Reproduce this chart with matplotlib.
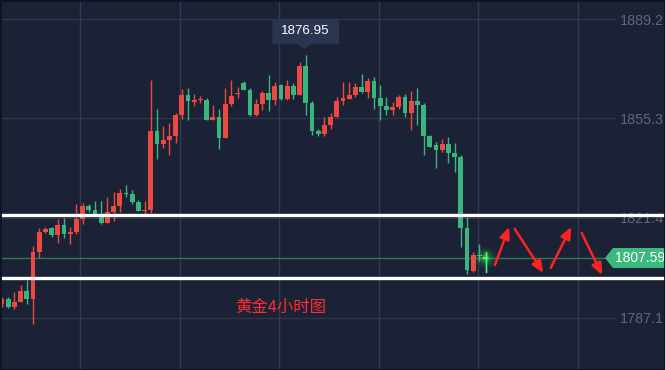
import matplotlib
matplotlib.use('Agg')
import matplotlib.pyplot as plt
from matplotlib.patches import Rectangle, Polygon
from matplotlib.transforms import blended_transform_factory

# ---- data (gold, 4h candles; red = up, green = down) ----
opens = [1791.9, 1793.6, 1790.9, 1792.6, 1796.3, 1793.6, 1809.6, 1816.5, 1817.8, 1815.4,
         1818.9, 1815.8, 1816.5, 1820.9, 1825.3, 1824.0, 1822.3, 1819.5, 1823.3, 1825.3,
         1829.8, 1829.4, 1826.7, 1823.6, 1824.0, 1851.0, 1846.5, 1847.9, 1849.3, 1856.4,
         1863.3, 1860.9, 1861.5, 1861.5, 1854.7, 1855.7, 1848.6, 1860.2, 1863.6, 1867.4,
         1865.0, 1856.4, 1860.2, 1863.9, 1861.5, 1866.7, 1861.9, 1866.3, 1863.3, 1873.2,
         1860.5, 1851.0, 1849.9, 1853.0, 1855.7, 1861.2, 1861.9, 1863.3, 1866.0, 1864.3,
         1868.0, 1862.2, 1859.5, 1858.1, 1859.2, 1862.6, 1857.1, 1861.2, 1859.8, 1849.3,
         1846.2, 1844.5, 1846.5, 1843.4, 1842.1, 1817.8, 1803.1, 1808.6, 1807.9]
highs = [1794.3, 1794.3, 1796.0, 1798.4, 1800.1, 1811.7, 1817.8, 1818.2, 1818.2, 1820.9,
         1821.2, 1818.2, 1826.0, 1826.4, 1826.0, 1827.1, 1827.1, 1828.4, 1830.1, 1831.2,
         1832.5, 1830.8, 1827.4, 1827.1, 1868.4, 1858.5, 1852.7, 1853.7, 1857.1, 1865.3,
         1865.6, 1863.6, 1862.9, 1862.2, 1859.8, 1858.5, 1865.6, 1868.4, 1866.0, 1868.0,
         1865.6, 1861.9, 1864.6, 1870.1, 1867.7, 1867.0, 1868.4, 1867.4, 1874.5, 1876.95,
         1861.2, 1851.6, 1855.7, 1857.1, 1862.6, 1867.7, 1867.7, 1867.4, 1870.4, 1869.1,
         1869.4, 1866.7, 1862.6, 1860.9, 1863.3, 1863.6, 1864.6, 1865.6, 1860.5, 1849.6,
         1847.2, 1848.2, 1848.9, 1846.9, 1842.8, 1821.6, 1809.6, 1812.4, 1809.6]
lows = [1790.9, 1790.5, 1790.2, 1792.6, 1791.9, 1785.0, 1807.6, 1816.1, 1814.8, 1812.7,
        1814.4, 1812.4, 1815.8, 1819.2, 1823.3, 1822.6, 1819.2, 1819.5, 1820.2, 1823.3,
        1828.4, 1826.0, 1823.6, 1822.6, 1823.0, 1841.4, 1845.1, 1842.8, 1846.9, 1855.1,
        1854.7, 1859.5, 1860.5, 1854.7, 1854.7, 1844.8, 1848.6, 1859.5, 1862.2, 1865.0,
        1856.1, 1856.1, 1858.1, 1857.8, 1859.8, 1861.5, 1861.5, 1861.9, 1863.3, 1856.4,
        1849.6, 1849.3, 1849.3, 1851.6, 1855.7, 1859.8, 1861.9, 1862.6, 1863.9, 1862.2,
        1858.5, 1854.7, 1856.4, 1856.4, 1858.5, 1855.7, 1851.3, 1853.0, 1842.8, 1845.5,
        1838.3, 1843.8, 1840.0, 1837.0, 1811.3, 1802.1, 1802.8, 1806.6, 1802.8]
closes = [1793.6, 1790.9, 1792.6, 1796.3, 1793.6, 1809.6, 1816.5, 1817.5, 1815.4, 1818.9,
          1815.8, 1816.5, 1820.9, 1825.3, 1824.0, 1822.6, 1819.5, 1823.3, 1825.3, 1829.8,
          1829.4, 1826.7, 1823.6, 1824.0, 1851.0, 1846.5, 1847.9, 1849.3, 1856.4, 1863.3,
          1861.2, 1861.5, 1861.9, 1854.7, 1855.7, 1848.6, 1860.2, 1862.9, 1863.9, 1865.0,
          1856.4, 1860.2, 1863.9, 1861.5, 1866.3, 1861.9, 1866.3, 1863.3, 1873.2, 1860.5,
          1851.0, 1849.9, 1853.0, 1855.7, 1861.2, 1862.2, 1863.3, 1866.0, 1864.3, 1868.0,
          1862.2, 1859.5, 1858.1, 1859.2, 1862.6, 1857.1, 1861.2, 1859.8, 1849.3, 1845.5,
          1844.5, 1846.5, 1843.4, 1842.1, 1817.8, 1803.5, 1808.6, 1808.3, 1807.6]

y_ticks = [1889.2, 1855.3, 1821.4, 1787.1]
y_tick_labels = ["1889.2", "1855.3", "1821.4", "1787.1"]
last_price = 1807.59
last_price_label = "1807.59"
peak_index = 49
peak_label = "1876.95"
resistance_level = 1822.1
support_level = 1800.6
caption = "黄金4小时图"
caption_pos = (45.0, 1790.6)
# hand-drawn forecast arrows: (start, tip) in (candle index, price)
arrow_paths = [((79.5, 1805.2), (81.8, 1818.2)),
               ((82.7, 1817.5), (87.3, 1802.5)),
               ((88.5, 1804.2), (91.8, 1818.2)),
               ((93.5, 1816.1), (96.8, 1801.8))]

# ---- style ----
BG = '#1c2236'
RED = '#ec4a40'
GREEN = '#3bb57e'
GRID = '#2f364a'
VGRID = '#343b50'
TICK_C = '#5f677b'

W, H, DPI = 665, 370, 100
PX_X = 6.2          # pixels per candle
X0_PX = 2.0         # pixel center of first candle
PX_Y = 0.3415       # price per pixel
TOP_PRICE = 1895.69

fig = plt.figure(figsize=(W / DPI, H / DPI), dpi=DPI, facecolor=BG)
ax = fig.add_axes([0, 0, 1, 1])
ax.set_facecolor(BG)
ax.set_xlim(-X0_PX / PX_X, (W - X0_PX) / PX_X)
ax.set_ylim(TOP_PRICE - PX_Y * H, TOP_PRICE)
ax.axis('off')

def px2x(px):
    return (px - X0_PX) / PX_X

# grid
for yt in y_ticks:
    ax.plot([px2x(0), px2x(615)], [yt, yt], color=GRID, lw=1.0, zorder=1)
for k in range(6):
    ax.axvline(12.6 + 16.05 * k, color=VGRID, lw=1.0, zorder=1)

# tick labels
for yt, lab in zip(y_ticks, y_tick_labels):
    ax.text(px2x(620), yt - PX_Y * 1.5, lab, color=TICK_C, fontsize=10.4, va='center',
            ha='left', family='Liberation Sans', zorder=2)

# current price line
ax.plot([px2x(0), px2x(606)], [last_price, last_price], color='#2a7a55', lw=1.0, zorder=2)

# candles
n = len(opens)
bw = 0.8
for i in range(n):
    o, h, l, c = opens[i], highs[i], lows[i], closes[i]
    col = RED if c >= o else GREEN
    ax.plot([i, i], [l, h], color=col, lw=1.0, zorder=3, solid_capstyle='butt')
    lo, hi = min(o, c), max(o, c)
    ax.add_patch(Rectangle((i - bw / 2, lo), bw, max(hi - lo, PX_Y * 1.2),
                           facecolor=col, edgecolor='none', zorder=4))

# glow on the live candle
li = n - 1
for s, a in [(260, 0.06), (150, 0.10), (70, 0.18), (25, 0.35)]:
    ax.scatter([li], [closes[li]], s=s, color='#39ff5a', alpha=a, edgecolors='none', zorder=5)
ax.plot([li, li], [lows[li], highs[li]], color='#4dff6a', lw=1.0, zorder=6)
ax.add_patch(Rectangle((li - bw / 2, closes[li] - PX_Y * 0.6), bw, PX_Y * 1.4,
                       facecolor='#4dff6a', edgecolor='none', zorder=6))

# support / resistance lines
for lvl in (resistance_level, support_level):
    ax.axhline(lvl, color='white', lw=2.4, zorder=7)

# price tag on the right
bt = blended_transform_factory(ax.transAxes, ax.transData)
hh = PX_Y * 10
tag = Polygon([(605 / W, last_price), (613 / W, last_price + hh), (1.01, last_price + hh),
               (1.01, last_price - hh), (613 / W, last_price - hh)],
              closed=True, facecolor='#3cba7e', edgecolor='none', transform=bt, zorder=8)
ax.add_patch(tag)
ax.text(614.5 / W, last_price, last_price_label, transform=bt, color='white', fontsize=10.0,
        va='center', ha='left', family='Liberation Sans', zorder=9)

# peak tooltip
px_peak = X0_PX + PX_X * peak_index
hp = highs[peak_index]
box_bottom = hp + PX_Y * 11
box_top = hp + PX_Y * 36
bx0, bx1 = px2x(px_peak - 33.5), px2x(px_peak + 33.5)
tip = Polygon([(bx0, box_bottom), (bx0, box_top), (bx1, box_top), (bx1, box_bottom),
               (px2x(px_peak + 6.5), box_bottom), (px2x(px_peak - 2), hp + PX_Y * 6),
               (px2x(px_peak - 8.5), box_bottom)],
              closed=True, facecolor='#2b3450', edgecolor='none', zorder=8)
ax.add_patch(tip)
ax.text(px2x(px_peak - 1), (box_bottom + box_top) / 2, peak_label, color='white',
        fontsize=9.6, va='center', ha='center', family='Liberation Sans', zorder=9)

# caption
ax.text(caption_pos[0], caption_pos[1], caption, color='#ff2d2d', fontsize=11.8,
        va='center', ha='center', family=['Noto Sans CJK SC', 'DejaVu Sans'], zorder=9)

# forecast arrows
for (x0, y0), (x1, y1) in arrow_paths:
    ax.annotate('', xy=(x1, y1), xytext=(x0, y0),
                arrowprops=dict(arrowstyle='-|>,head_length=0.7,head_width=0.3',
                                color='#ff2222', lw=1.8, shrinkA=0, shrinkB=0),
                zorder=9)

# thin frame
fig.patches.append(Rectangle((0, 0), 1, 1, transform=fig.transFigure, fill=False,
                             edgecolor='#0f1320', lw=2.0, zorder=20))

fig.savefig('out.png', dpi=DPI, facecolor=BG)
